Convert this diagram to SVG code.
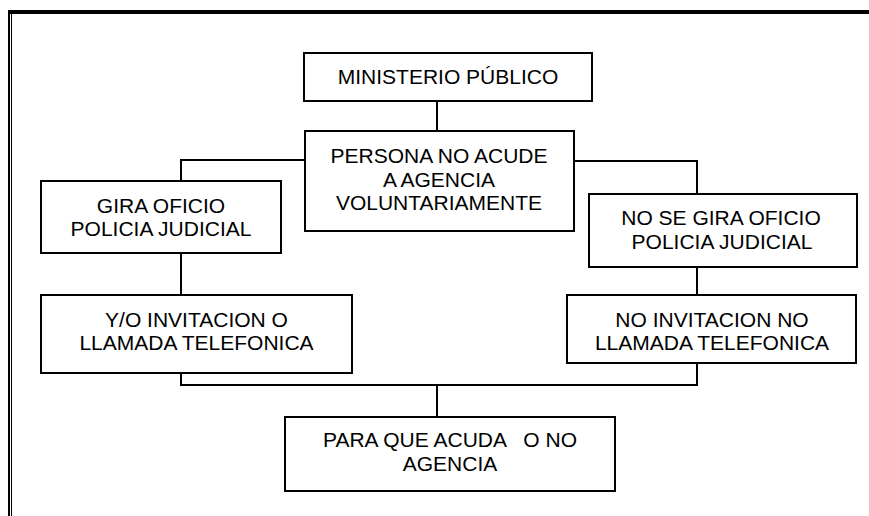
<svg xmlns="http://www.w3.org/2000/svg" width="869" height="516" viewBox="0 0 869 516">
<style>
.box{fill:#fff;stroke:#000;stroke-width:2}
.ln{fill:none;stroke:#000;stroke-width:2}
text{font-family:"Liberation Sans",Arial,sans-serif;font-size:21px;fill:#000;text-anchor:middle;white-space:pre}
</style>
<rect width="869" height="516" fill="#fff"/>
<g id="frame">
<rect x="8" y="10" width="861" height="4" fill="#000"/>
<rect x="8" y="10" width="2" height="506" fill="#000"/>
<rect x="11" y="14" width="1" height="502" fill="#000"/>
</g>
<g id="connectors">
<path class="ln" d="M437 101V131"/>
<path class="ln" d="M305 160H181V181"/>
<path class="ln" d="M181 253V295"/>
<path class="ln" d="M574 161H697V194"/>
<path class="ln" d="M697 267V295"/>
<path class="ln" d="M181 373V385H697V363"/>
<path class="ln" d="M437 385V417"/>
</g>
<g id="ministerio">
<rect class="box" x="304" y="53" width="288" height="48"/>
<text x="448" y="84">MINISTERIO PÚBLICO</text>
</g>
<g id="persona">
<rect class="box" x="305" y="131" width="269" height="100"/>
<text x="439" y="163">PERSONA NO ACUDE</text>
<text x="439" y="187">A AGENCIA</text>
<text x="439" y="210">VOLUNTARIAMENTE</text>
</g>
<g id="gira">
<rect class="box" x="41" y="181" width="240" height="72"/>
<text x="161" y="213">GIRA OFICIO</text>
<text x="161" y="236">POLICIA JUDICIAL</text>
</g>
<g id="invitacion">
<rect class="box" x="41" y="295" width="311" height="78"/>
<text x="196.5" y="327">Y/O INVITACION O</text>
<text x="196.5" y="350">LLAMADA TELEFONICA</text>
</g>
<g id="nosegira">
<rect class="box" x="589" y="194" width="268" height="73"/>
<text x="721" y="225">NO SE GIRA OFICIO</text>
<text x="722" y="249">POLICIA JUDICIAL</text>
</g>
<g id="noinvitacion">
<rect class="box" x="567" y="295" width="289" height="68"/>
<text x="712" y="327">NO INVITACION NO</text>
<text x="712" y="350">LLAMADA TELEFONICA</text>
</g>
<g id="paraque">
<rect class="box" x="285" y="417" width="330" height="74"/>
<text x="450" y="447" xml:space="preserve">PARA QUE ACUDA   O NO</text>
<text x="450" y="471">AGENCIA</text>
</g>
</svg>
